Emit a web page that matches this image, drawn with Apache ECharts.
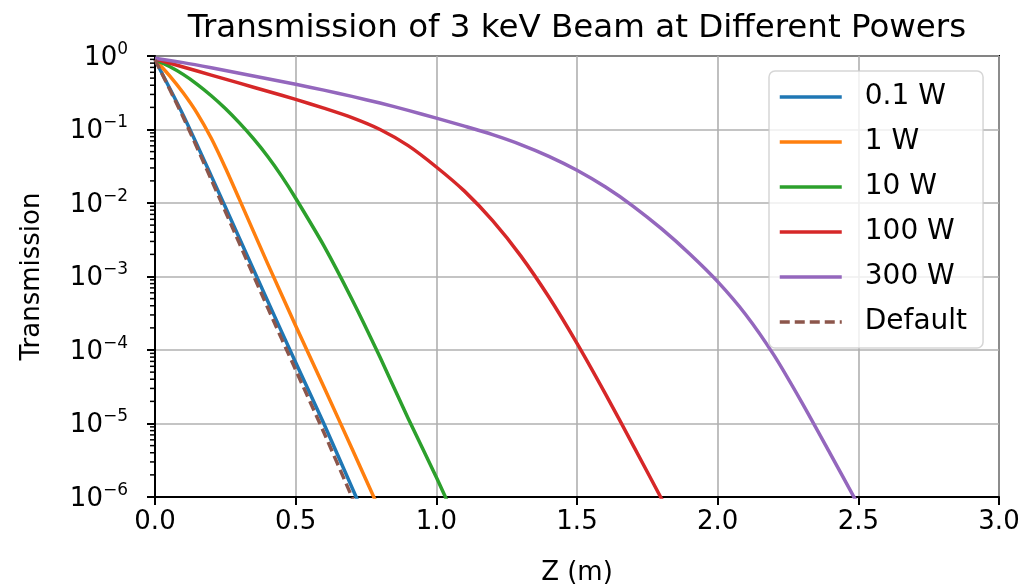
<!DOCTYPE html>
<html>
<head>
<meta charset="utf-8">
<script src="https://cdn.jsdelivr.net/npm/echarts@6/dist/echarts.min.js"></script>
<style>
  html, body { margin: 0; padding: 0; background: #ffffff; }
  #chart { width: 1023px; height: 587px; }
</style>
</head>
<body>
<div id="chart"></div>
<script>
// Beam transmission vs. distance Z (m), one curve per beam power
const seriesNames = ['0.1 W', '1 W', '10 W', '100 W', '300 W', 'Default'];
const seriesColors = ['#1f77b4', '#ff7f0e', '#2ca02c', '#d62728', '#9467bd', '#8c564b'];

const xTicks = [0, 0.5, 1.0, 1.5, 2.0, 2.5, 3.0];
const yDecades = [1e-6, 1e-5, 1e-4, 1e-3, 1e-2, 1e-1, 1];

const z01W = [0, 0.1, 0.2, 0.3, 0.4, 0.5, 0.6, 0.7, 0.73];
const t01W = [0.891, 0.158, 2.34e-2, 3.31e-3, 4.68e-4, 6.76e-5, 1.0e-5, 1.35e-6, 7.41e-7];

const z1W = [0, 0.05, 0.1, 0.15, 0.2, 0.25, 0.3, 0.4, 0.5, 0.6, 0.7, 0.78, 0.79];
const t1W = [0.891, 0.55, 0.316, 0.166, 7.59e-2, 3.02e-2, 1.12e-2, 1.51e-3, 2.14e-4, 3.16e-5, 4.57e-6, 9.55e-7, 7.94e-7];

const z10W = [0, 0.05, 0.1, 0.15, 0.2, 0.25, 0.3, 0.35, 0.4, 0.45, 0.5, 0.6, 0.7, 0.8, 0.9, 1.0, 1.05];
const t10W = [0.891, 0.724, 0.562, 0.412, 0.288, 0.193, 0.123, 7.50e-2, 4.32e-2, 2.32e-2, 1.16e-2, 2.63e-3, 4.90e-4, 7.94e-5, 1.17e-5, 1.86e-6, 7.08e-7];

const z100W = [0, 0.1, 0.2, 0.3, 0.4, 0.5, 0.6, 0.7, 0.8, 0.9, 1.0, 1.1, 1.2, 1.3, 1.4, 1.5, 1.6, 1.7, 1.8, 1.82];
const t100W = [0.912, 0.708, 0.55, 0.427, 0.331, 0.257, 0.195, 0.145, 0.1, 6.03e-2, 3.09e-2, 1.45e-2, 5.75e-3, 1.91e-3, 5.25e-4, 1.23e-4, 2.57e-5, 5.01e-6, 9.55e-7, 6.92e-7];

const z300W = [0, 0.1, 0.2, 0.3, 0.4, 0.5, 0.6, 0.7, 0.8, 0.9, 1.0, 1.1, 1.2, 1.3, 1.4, 1.5, 1.6, 1.7, 1.8, 1.9, 2.0, 2.1, 2.2, 2.3, 2.4, 2.49];
const t300W = [0.933, 0.813, 0.692, 0.582, 0.49, 0.412, 0.343, 0.282, 0.229, 0.182, 0.143, 0.111, 8.51e-2, 6.24e-2, 4.32e-2, 2.79e-2, 1.66e-2, 9.02e-3, 4.47e-3, 2.04e-3, 8.51e-4, 3.02e-4, 8.51e-5, 1.91e-5, 3.89e-6, 9.12e-7];

const zDefault = [0, 0.1, 0.2, 0.3, 0.4, 0.5, 0.6, 0.7, 0.71];
const tDefault = [0.891, 0.148, 2.09e-2, 2.82e-3, 3.80e-4, 5.37e-5, 7.59e-6, 1.0e-6, 8.13e-7];

const zData = [z01W, z1W, z10W, z100W, z300W, zDefault];
const tData = [t01W, t1W, t10W, t100W, t300W, tDefault];

const FONT = 'DejaVu Sans';

function pairs(zs, ts) {
  return zs.map((z, i) => [z, ts[i]]);
}

// log-axis minor tick values (2..9 per decade)
const minorTicks = [];
for (let e = -6; e < 0; e++) {
  for (let k = 2; k <= 9; k++) minorTicks.push([0, k * Math.pow(10, e)]);
}

function decadeLabel(v) {
  const e = Math.round(Math.log10(v));
  const s = e < 0 ? '\u2212' + (-e) : String(e);
  return '{b|10}{s|' + s + '}';
}

const lineSeries = seriesNames.map((name, i) => ({
  name: name,
  type: 'line',
  data: pairs(zData[i], tData[i]),
  showSymbol: false,
  symbol: 'none',
  smooth: 0.25,
  clip: true,
  z: 3,
  lineStyle: {
    color: seriesColors[i],
    width: 3.5,
    type: name === 'Default' ? [10, 5] : 'solid',
    cap: 'butt',
    join: 'round'
  },
  itemStyle: { color: seriesColors[i] },
  emphasis: { disabled: true }
}));

const minorTickSeries = {
  type: 'custom',
  silent: true,
  z: 6,
  data: minorTicks,
  renderItem: function (params, api) {
    const p = api.coord([api.value(0), api.value(1)]);
    return {
      type: 'line',
      shape: { x1: p[0] - 5, y1: p[1], x2: p[0], y2: p[1] },
      style: { stroke: '#000000', lineWidth: 1.5 }
    };
  }
};

const chart = echarts.init(document.getElementById('chart'), null, { renderer: 'canvas' });

chart.setOption({
  animation: false,
  backgroundColor: '#ffffff',
  title: {
    text: 'Transmission of 3 keV Beam at Different Powers',
    left: 577,
    textAlign: 'center',
    top: 12,
    padding: 0,
    textStyle: { fontFamily: FONT, fontSize: 32.5, fontWeight: 'normal', color: '#000000' }
  },
  grid: {
    left: 155, right: 24, top: 56, bottom: 90,
    outerBoundsMode: 'none',
    show: true,
    borderColor: '#000000',
    borderWidth: 2,
    backgroundColor: 'transparent',
    containLabel: false
  },
  legend: {
    data: seriesNames,
    orient: 'vertical',
    left: 769,
    top: 71,
    padding: [12, 16, 12, 9],
    itemWidth: 62,
    itemHeight: 20,
    itemGap: 17,
    selectedMode: false,
    backgroundColor: 'rgba(255,255,255,0.8)',
    borderColor: 'rgba(204,204,204,0.8)',
    borderWidth: 1.5,
    borderRadius: 6,
    itemStyle: { opacity: 0 },
    lineStyle: { width: 3.5 },
    textStyle: { fontFamily: FONT, fontSize: 28, lineHeight: 28, color: '#000000', padding: [0, 0, 0, 18] }
  },
  xAxis: {
    type: 'value',
    min: 0,
    max: 3,
    interval: 0.5,
    name: 'Z (m)',
    nameLocation: 'middle',
    nameGap: 63,
    nameTextStyle: { fontFamily: FONT, fontSize: 26, color: '#000000' },
    axisLine: { show: true, lineStyle: { color: '#000000', width: 2 } },
    axisTick: { show: true, length: 8, lineStyle: { color: '#000000', width: 2 } },
    axisLabel: {
      margin: 12,
      fontFamily: FONT, fontSize: 26, color: '#000000',
      formatter: v => v.toFixed(1),
      customValues: xTicks
    },
    splitLine: { show: true, lineStyle: { color: '#b0b0b0', width: 1.6 } }
  },
  yAxis: {
    type: 'log',
    logBase: 10,
    min: yDecades[0],
    max: yDecades[yDecades.length - 1],
    name: 'Transmission',
    nameLocation: 'middle',
    nameGap: 110,
    nameRotate: 90,
    nameTextStyle: { fontFamily: FONT, fontSize: 26, color: '#000000' },
    axisLine: { show: true, lineStyle: { color: '#000000', width: 2 } },
    axisTick: { show: true, length: 8, lineStyle: { color: '#000000', width: 2 } },
    axisLabel: {
      margin: 27,
      color: '#000000',
      formatter: decadeLabel,
      rich: {
        b: { fontFamily: FONT, fontSize: 26, color: '#000000', verticalAlign: 'bottom', lineHeight: 30 },
        s: { fontFamily: FONT, fontSize: 17, color: '#000000', verticalAlign: 'top', lineHeight: 17 }
      }
    },
    splitLine: { show: true, lineStyle: { color: '#b0b0b0', width: 1.6 } }
  },
  series: lineSeries.concat([minorTickSeries])
});
</script>
</body>
</html>
